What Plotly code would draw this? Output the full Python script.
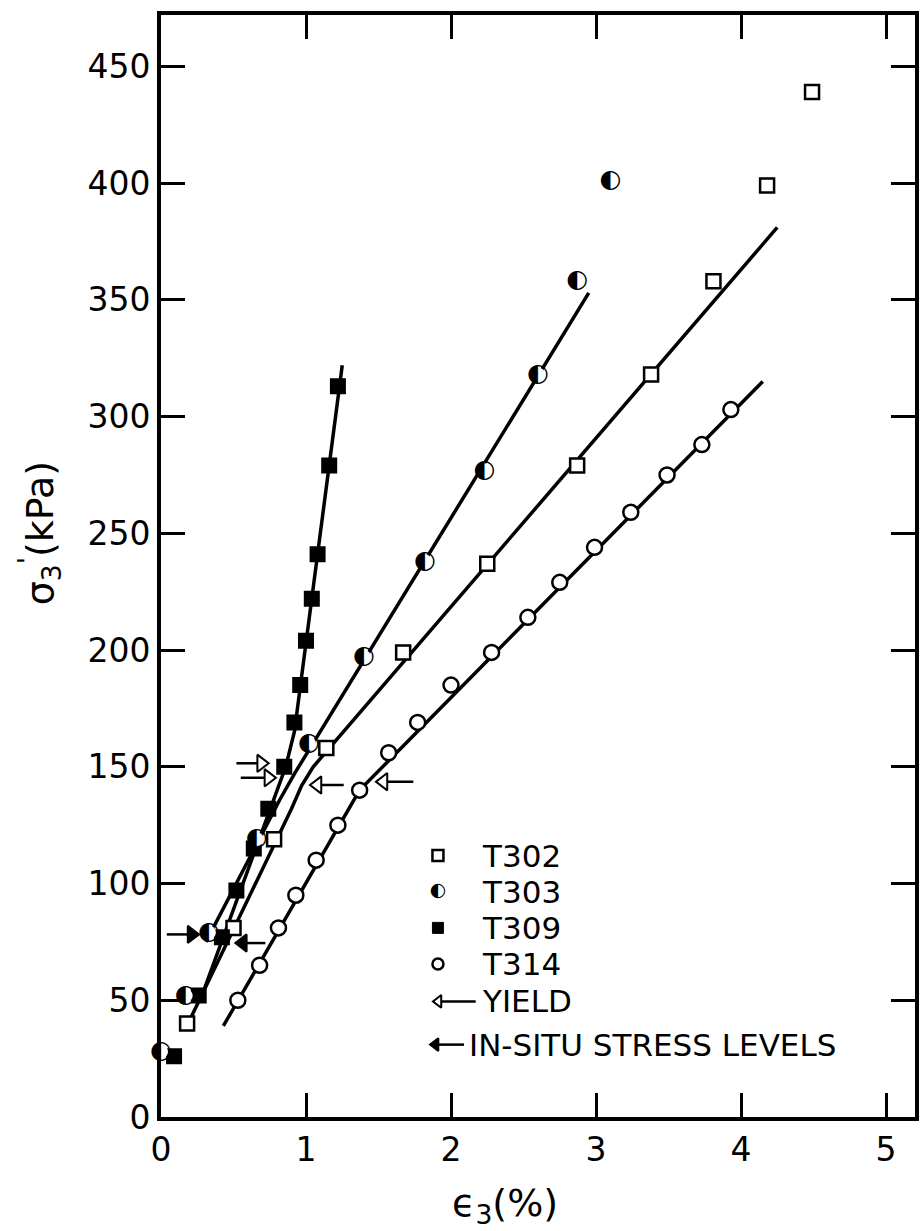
import plotly.graph_objects as go

# ---------------- data ----------------
# T302 (open squares)
t302_x = [0.18, 0.50, 0.78, 1.14, 1.67, 2.25, 2.87, 3.38, 3.81, 4.18, 4.49]
t302_y = [40, 81, 119, 158, 199, 237, 279, 318, 358, 399, 439]
# T303 (half-filled circles)
t303_x = [0.00, 0.17, 0.33, 0.66, 1.02, 1.40, 1.82, 2.23, 2.60, 2.87, 3.10]
t303_y = [28, 52, 79, 119, 160, 197, 238, 277, 318, 358, 401]
# T309 (filled squares)
t309_x = [0.09, 0.26, 0.42, 0.52, 0.64, 0.74, 0.85, 0.92, 0.96, 1.00, 1.04, 1.08, 1.16, 1.22]
t309_y = [26, 52, 77, 97, 115, 132, 150, 169, 185, 204, 222, 241, 279, 313]
# T314 (open circles)
t314_x = [0.53, 0.68, 0.81, 0.93, 1.07, 1.22, 1.37, 1.57, 1.77, 2.00, 2.28, 2.53, 2.75, 2.99, 3.24, 3.49, 3.73, 3.93]
t314_y = [50, 65, 81, 95, 110, 125, 140, 156, 169, 185, 199, 214, 229, 244, 259, 275, 288, 303]

# fitted trend lines (hand drawn in the original)
t302_line_x = [0.21, 0.80, 0.90, 0.97, 1.05, 4.25]
t302_line_y = [43, 119, 132, 142, 150, 381]
t303_line_x = [0.31, 0.82, 0.92, 2.95]
t303_line_y = [75, 136, 147, 353]
t309_line_x = [0.27, 0.86, 0.92, 1.25]
t309_line_y = [50, 150, 165, 322]
t314_line_x = [0.43, 1.37, 4.15]
t314_line_y = [39, 140, 315]

# yield arrows (open heads): tail x, tip x, stress level
yield_tail_x = [0.52, 0.55, 1.26, 1.74]
yield_tip_x = [0.75, 0.80, 1.02, 1.475]
yield_y = [151.5, 145.3, 142.2, 143.6]
# in-situ stress arrows (solid heads)
insitu_tail_x = [0.04, 0.72]
insitu_tip_x = [0.27, 0.505]
insitu_y = [78.2, 74.5]

x_ticks = [0, 1, 2, 3, 4, 5]
y_ticks = [0, 50, 100, 150, 200, 250, 300, 350, 400, 450]
legend_labels = ["T302", "T303", "T309", "T314", "YIELD", "IN-SITU STRESS LEVELS"]

# ---------------- styling ----------------
FONT = "DejaVu Sans"
BLACK = "black"
PX_PER_X = 145.8   # px per x unit (for arrow head offset)
LW = 3.5
MS = 14

fig = go.Figure()


def add_line(x, y, width=LW):
    fig.add_trace(go.Scatter(x=x, y=y, mode="lines", line=dict(color=BLACK, width=width),
                             hoverinfo="skip", showlegend=False, cliponaxis=False))


for lx, ly in [(t302_line_x, t302_line_y), (t303_line_x, t303_line_y),
               (t309_line_x, t309_line_y), (t314_line_x, t314_line_y)]:
    add_line(lx, ly)


def add_arrow(tail, tip, yv, filled, size=15, width=2.5):
    d = 1 if tip > tail else -1
    r = size / 2.0
    off = r * 2 / 3 ** 0.5 / PX_PER_X
    centre = tip - d * off
    base = centre - d * (r / 2.0) / PX_PER_X
    add_line([tail, base], [yv, yv], width=width)
    sym = "triangle-right" if d > 0 else "triangle-left"
    fig.add_trace(go.Scatter(
        x=[centre], y=[yv], mode="markers",
        marker=dict(symbol=sym, size=size,
                    color=BLACK if filled else "white",
                    line=dict(color=BLACK, width=2)),
        hoverinfo="skip", showlegend=False, cliponaxis=False))


for a, b, c in zip(yield_tail_x, yield_tip_x, yield_y):
    add_arrow(a, b, c, filled=False)
for a, b, c in zip(insitu_tail_x, insitu_tip_x, insitu_y):
    add_arrow(a, b, c, filled=True)

# markers
fig.add_trace(go.Scatter(x=t302_x, y=t302_y, mode="markers", name="T302",
                         marker=dict(symbol="square", size=MS, color="white",
                                     line=dict(color=BLACK, width=2.5)),
                         showlegend=False, cliponaxis=False))
fig.add_trace(go.Scatter(x=t314_x, y=t314_y, mode="markers", name="T314",
                         marker=dict(symbol="circle", size=MS + 1, color="white",
                                     line=dict(color=BLACK, width=2.5)),
                         showlegend=False, cliponaxis=False))
fig.add_trace(go.Scatter(x=t309_x, y=t309_y, mode="markers", name="T309",
                         marker=dict(symbol="square", size=MS, color=BLACK,
                                     line=dict(color=BLACK, width=2)),
                         showlegend=False, cliponaxis=False))
# half-filled circle: white disc underneath + glyph on top
fig.add_trace(go.Scatter(x=t303_x, y=t303_y, mode="markers+text", name="T303",
                         text=["◐"] * len(t303_x), textposition="middle center",
                         textfont=dict(family=FONT, size=25, color=BLACK),
                         marker=dict(symbol="circle", size=MS, color="white",
                                     line=dict(width=0)),
                         showlegend=False, cliponaxis=False))

# ---------------- hand-drawn legend inside the plot ----------------
leg_sym_x = 1.91
leg_text_x = 2.20
leg_y = [112, 96.5, 81, 65.5, 49.5, 31]
LEG_MS = 11
fig.add_trace(go.Scatter(x=[leg_sym_x], y=[leg_y[0]], mode="markers", showlegend=False,
                         marker=dict(symbol="square", size=LEG_MS, color="white",
                                     line=dict(color=BLACK, width=2.5))))
fig.add_trace(go.Scatter(x=[leg_sym_x], y=[leg_y[1]], mode="text", showlegend=False,
                         text=["◐"], textposition="middle center",
                         textfont=dict(family=FONT, size=19, color=BLACK)))
fig.add_trace(go.Scatter(x=[leg_sym_x], y=[leg_y[2]], mode="markers", showlegend=False,
                         marker=dict(symbol="square", size=LEG_MS, color=BLACK,
                                     line=dict(color=BLACK, width=1))))
fig.add_trace(go.Scatter(x=[leg_sym_x], y=[leg_y[3]], mode="markers", showlegend=False,
                         marker=dict(symbol="circle", size=LEG_MS, color="white",
                                     line=dict(color=BLACK, width=2.5))))
add_arrow(2.17, 1.87, leg_y[4], filled=False, size=11, width=2.5)
add_arrow(2.09, 1.85, leg_y[5], filled=True, size=11, width=2.5)

annotations = []
for i, lab in enumerate(legend_labels):
    annotations.append(dict(
        x=leg_text_x if i < 5 else 2.11, y=leg_y[i], xref="x", yref="y",
        text=lab, showarrow=False, xanchor="left", yanchor="middle",
        font=dict(family=FONT, size=31, color=BLACK)))

# axis titles
annotations.append(dict(x=2.37, y=0, xref="x", yref="paper", yshift=-88,
                        text="ϵ<sub>3</sub>(%)", showarrow=False,
                        xanchor="center", yanchor="middle",
                        font=dict(family=FONT, size=38, color=BLACK)))
annotations.append(dict(x=-0.16, y=0.53, xref="paper", yref="paper",
                        text="σ<sub>3</sub><sup>'</sup>(kPa)", showarrow=False,
                        textangle=-90, xanchor="center", yanchor="middle",
                        font=dict(family=FONT, size=38, color=BLACK)))

axis_common = dict(showgrid=False, zeroline=False, showline=True, linewidth=4,
                   linecolor=BLACK, mirror="ticks", ticks="inside", ticklen=24,
                   tickwidth=3, tickcolor=BLACK,
                   tickfont=dict(family=FONT, size=33, color=BLACK))

fig.update_layout(
    width=921, height=1231,
    margin=dict(l=161, r=2, t=15, b=114),
    paper_bgcolor="white", plot_bgcolor="white",
    showlegend=False,
    xaxis=dict(range=[0, 5.2], tickvals=x_ticks, ticktext=[str(v) for v in x_ticks],
               **axis_common),
    yaxis=dict(range=[0, 472], tickvals=y_ticks, ticktext=[str(v) for v in y_ticks],
               **axis_common),
    annotations=annotations,
)

fig.write_html("out.html")
